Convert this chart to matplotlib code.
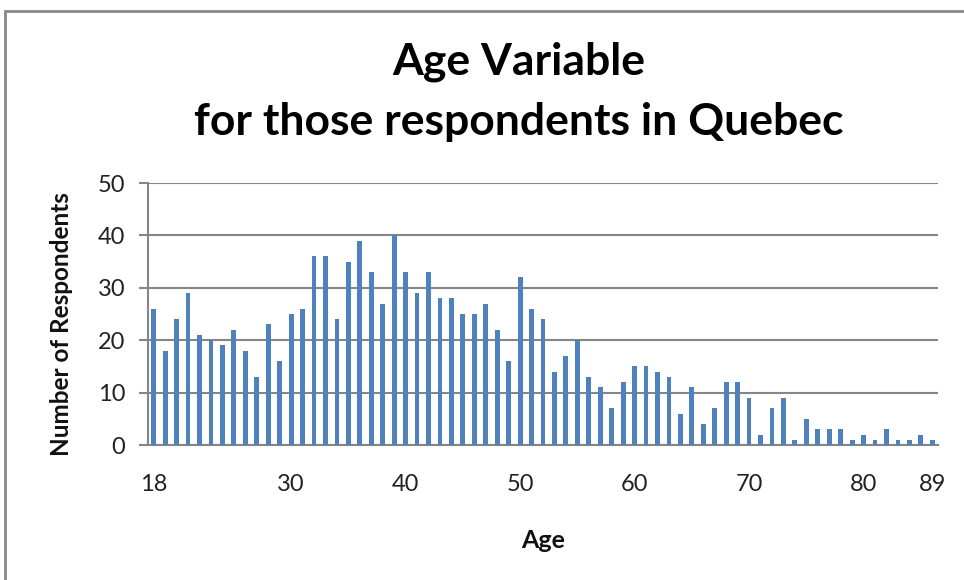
import matplotlib
matplotlib.use("Agg")
import matplotlib.pyplot as plt
from matplotlib.patches import Rectangle

ages = list(range(18, 81)) + [81, 82, 83, 84, 86, 89]
counts = [26, 18, 24, 29, 21, 20, 19, 22, 18, 13, 23, 16, 25, 26, 36, 36, 24, 35, 39, 33,
          27, 40, 33, 29, 33, 28, 28, 25, 25, 27, 22, 16, 32, 26, 24, 14, 17, 20, 13, 11,
          7, 12, 15, 15, 14, 13, 6, 11, 4, 7, 12, 12, 9, 2, 7, 9, 1, 5, 3, 3,
          3, 1, 2, 1, 3, 1, 1, 2, 1]
shown_labels = [18, 30, 40, 50, 60, 70, 80, 89]
yticks = [0, 10, 20, 30, 40, 50]

title = "Age Variable\nfor those respondents in Quebec"
xlabel = "Age"
ylabel = "Number of Respondents"

bar_color = "#4F81BD"
grid_color = "#868686"
font = "Lato"

fig = plt.figure(figsize=(9.64, 5.8), dpi=100)
W, H = 964, 580
ax = fig.add_axes([148 / W, 1 - 445 / H, (938 - 148) / W, (445 - 183) / H])

x = list(range(len(ages)))
ax.bar(x, counts, width=0.42, color=bar_color, zorder=3)
ax.set_xlim(-0.5, len(ages) - 0.5)
ax.set_ylim(0, 50)
ax.set_yticks(yticks)
ax.set_yticklabels([str(v) for v in yticks], fontsize=17, family=font, color="#222222")
pos = [ages.index(a) for a in shown_labels]
ax.set_xticks(pos)
ax.set_xticklabels([str(a) for a in shown_labels], fontsize=17, family=font, color="#222222")
ax.tick_params(axis="x", length=0, pad=21)
ax.tick_params(axis="y", length=6.5, width=1.5, color=grid_color, pad=10)
ax.grid(axis="y", color=grid_color, linewidth=1.5, zorder=0)
for s in ["top", "right"]:
    ax.spines[s].set_visible(False)
for s in ["left", "bottom"]:
    ax.spines[s].set_color(grid_color)
    ax.spines[s].set_linewidth(1.5)

fig.text(543 / W, 1 - 540 / H, xlabel, fontsize=18, family=font, fontweight="bold",
         ha="center", va="center", color="#111111")
fig.text(62 / W, 1 - 324 / H, ylabel, fontsize=17.5, family=font, fontweight="bold",
         rotation=90, ha="center", va="center", color="#111111")
fig.text(519 / W, 1 - 92 / H, title, fontsize=32, family=font, fontweight="bold",
         ha="center", va="center", color="#000000", linespacing=1.6)

fig.patches.append(Rectangle((5 / W, -0.1), 1.1, 1 - 11 / H + 0.1, transform=fig.transFigure,
                             fill=False, edgecolor="#878787", linewidth=2))

fig.savefig("out.png", dpi=100)
